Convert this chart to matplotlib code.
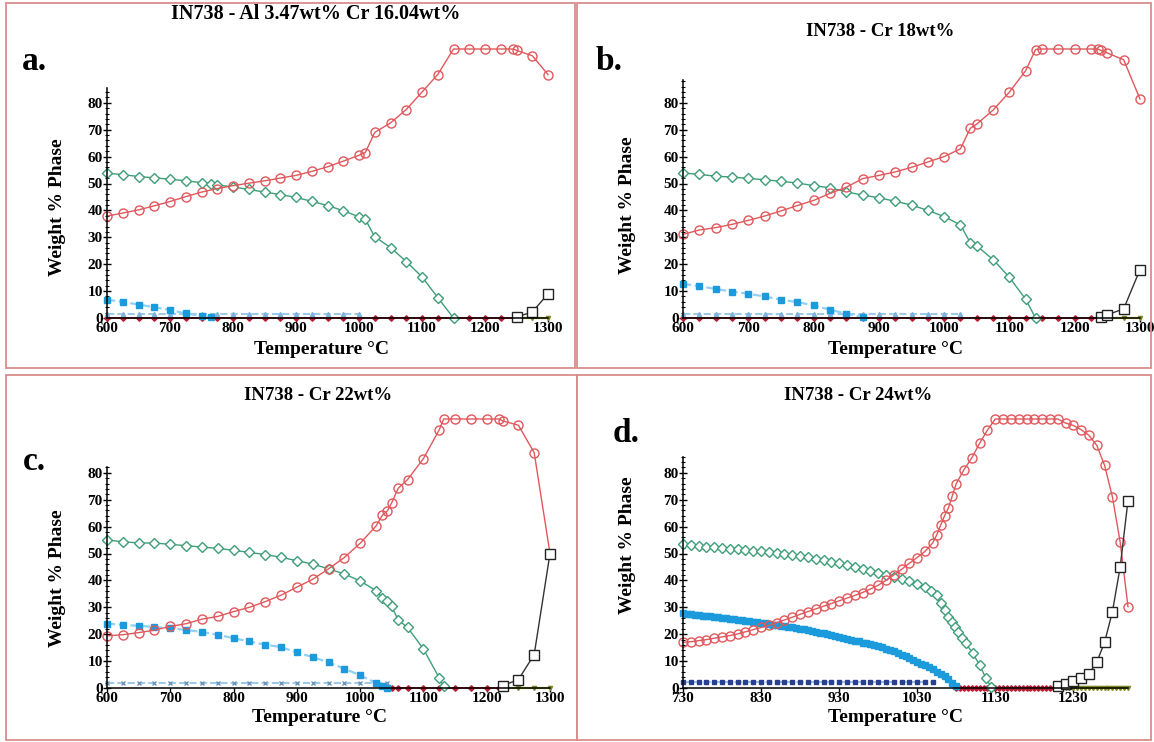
import matplotlib.pyplot as plt
from matplotlib.patches import Rectangle
from matplotlib.ticker import FixedLocator

plt.rcParams["font.family"] = ["Liberation Serif", "DejaVu Serif"]
plt.rcParams["font.weight"] = "bold"

W, H = 1154, 742
PPU = 2.69  # pixels per weight-% on every panel

# ---------------- panel a : IN738 - Al 3.47wt% Cr 16.04wt% ----------------
temp_fcc_a = [600, 625, 650, 675, 700, 725, 750, 775, 800, 825, 850, 875, 900, 925, 950, 975,
              1000, 1010, 1025, 1050, 1075, 1100, 1125, 1150, 1175, 1200, 1225, 1245, 1250, 1275, 1300]
fcc_a = [37.9, 39.0, 40.2, 41.7, 43.3, 45.1, 46.8, 48.1, 49.2, 50.1, 51.0, 52.0, 53.0, 54.5, 56.2, 58.3,
         60.5, 61.5, 69.0, 72.5, 77.5, 84.0, 90.5, 100, 100, 100, 100, 100, 99.5, 97.5, 90.5]
temp_gp_a = [600, 625, 650, 675, 700, 725, 750, 765, 775, 800, 825, 850, 875, 900, 925, 950, 975,
             1000, 1010, 1025, 1050, 1075, 1100, 1125, 1150]
gp_a = [53.8, 53.3, 52.6, 52.1, 51.6, 51.0, 50.3, 50.0, 49.5, 48.7, 47.8, 46.8, 45.9, 44.8, 43.4, 41.8, 39.9,
        37.6, 36.7, 30.2, 26.2, 21.0, 15.3, 7.6, 0.0]
temp_sig_a = [600, 625, 650, 675, 700, 725, 750, 765]
sig_a = [6.8, 6.0, 5.0, 4.0, 3.0, 1.7, 0.8, 0.2]
temp_carb_a = [600, 625, 650, 675, 700, 725, 750, 775, 800, 825, 850, 875, 900, 925, 950, 975, 1000]
carb_a = [1.5, 1.5, 1.5, 1.5, 1.5, 1.5, 1.5, 1.5, 1.5, 1.5, 1.5, 1.5, 1.5, 1.5, 1.5, 1.5, 1.5]
temp_zero_a = [600, 625, 650, 675, 700, 725, 750, 775, 800, 825, 850, 875, 900, 925, 950, 975, 1000,
               1025, 1050, 1075, 1100, 1125, 1150, 1175, 1200, 1225, 1250]
zero_a = [0, 0, 0, 0, 0, 0, 0, 0, 0, 0, 0, 0, 0, 0, 0, 0, 0, 0, 0, 0, 0, 0, 0, 0, 0, 0, 0]
temp_liq_a = [1250, 1275, 1300]
liq_a = [0.4, 2.2, 9.0]
temp_ol_a = [1250, 1275, 1300]
ol_a = [0, 0, 0]

# ---------------- panel b : IN738 - Cr 18wt% ----------------
temp_fcc_b = [600, 625, 650, 675, 700, 725, 750, 775, 800, 825, 850, 875, 900, 925, 950, 975, 1000, 1025,
              1040, 1050, 1075, 1100, 1125, 1140, 1150, 1175, 1200, 1225, 1235, 1240, 1250, 1275, 1300]
fcc_b = [31.1, 32.7, 33.6, 34.8, 36.3, 37.9, 39.8, 41.8, 43.7, 46.3, 48.6, 51.8, 53.0, 54.3, 56.0, 58.0, 60.0, 62.9,
         70.5, 72.1, 77.3, 84.0, 92.0, 99.8, 100, 100, 100, 100, 100, 99.5, 98.5, 96.0, 81.4]
temp_gp_b = [600, 625, 650, 675, 700, 725, 750, 775, 800, 825, 850, 875, 900, 925, 950, 975, 1000, 1025,
             1040, 1050, 1075, 1100, 1125, 1140]
gp_b = [53.9, 53.4, 52.7, 52.4, 51.9, 51.4, 50.8, 50.2, 49.2, 48.4, 46.9, 45.7, 44.7, 43.4, 42.0, 40.0, 37.7, 34.6,
        28.0, 26.8, 21.7, 15.1, 6.9, 0.0]
temp_sig_b = [600, 625, 650, 675, 700, 725, 750, 775, 800, 825, 850, 875]
sig_b = [12.7, 11.8, 10.8, 9.8, 9.0, 8.0, 6.8, 5.9, 4.7, 3.1, 1.6, 0.4]
temp_carb_b = [600, 625, 650, 675, 700, 725, 750, 775, 800, 825, 850, 875, 900, 925, 950, 975, 1000, 1025]
carb_b = [1.5, 1.5, 1.5, 1.5, 1.5, 1.5, 1.5, 1.5, 1.5, 1.5, 1.5, 1.5, 1.5, 1.5, 1.5, 1.5, 1.5, 1.5]
temp_zero_b = [600, 625, 650, 675, 700, 725, 750, 775, 800, 825, 850, 875, 900, 925, 950, 975, 1000,
               1025, 1050, 1075, 1100, 1125, 1150, 1175, 1200, 1225, 1240]
zero_b = [0, 0, 0, 0, 0, 0, 0, 0, 0, 0, 0, 0, 0, 0, 0, 0, 0, 0, 0, 0, 0, 0, 0, 0, 0, 0, 0]
temp_liq_b = [1240, 1250, 1275, 1300]
liq_b = [0.4, 1.2, 3.4, 18.0]
temp_ol_b = [1240, 1250, 1275, 1300]
ol_b = [0, 0, 0, 0]

# ---------------- panel c : IN738 - Cr 22wt% ----------------
temp_fcc_c = [600, 625, 650, 675, 700, 725, 750, 775, 800, 825, 850, 875, 900, 925, 950, 975, 1000, 1025,
              1035, 1043, 1050, 1060, 1075, 1100, 1125, 1132, 1150, 1175, 1200, 1220, 1225, 1250, 1275, 1300]
fcc_c = [19.4, 19.8, 20.6, 21.5, 22.9, 23.9, 25.6, 26.6, 28.4, 30.0, 32.1, 34.5, 37.5, 40.4, 44.3, 48.5, 53.8, 60.2,
         64.2, 65.8, 68.9, 74.2, 77.5, 85.3, 96.0, 100, 100, 100, 100, 100, 99.3, 97.7, 87.5, 50.0]
temp_gp_c = [600, 625, 650, 675, 700, 725, 750, 775, 800, 825, 850, 875, 900, 925, 950, 975, 1000, 1025,
             1035, 1043, 1050, 1060, 1075, 1100, 1125, 1132]
gp_c = [55.0, 54.4, 53.9, 53.9, 53.4, 52.9, 52.4, 51.9, 51.2, 50.4, 49.6, 48.6, 47.3, 46.1, 44.3, 42.4, 39.8, 36.2,
        33.6, 32.4, 30.3, 25.3, 22.5, 14.5, 3.7, 0.6]
temp_sig_c = [600, 625, 650, 675, 700, 725, 750, 775, 800, 825, 850, 875, 900, 925, 950, 975, 1000, 1025,
              1035, 1043]
sig_c = [23.9, 23.5, 23.1, 22.7, 22.2, 21.6, 20.8, 19.8, 18.5, 17.3, 16.1, 15.2, 13.2, 11.5, 9.5, 7.2, 4.7, 1.9,
         0.6, 0.0]
temp_carb_c = [600, 625, 650, 675, 700, 725, 750, 775, 800, 825, 850, 875, 900, 925, 950, 975, 1000, 1025, 1043]
carb_c = [1.8, 1.8, 1.8, 1.8, 1.8, 1.8, 1.8, 1.8, 1.8, 1.8, 1.8, 1.8, 1.8, 1.8, 1.8, 1.8, 1.8, 1.8, 1.8]
temp_zero_c = [1043, 1050, 1060, 1075, 1100, 1125, 1150, 1175, 1200, 1220, 1225]
zero_c = [0, 0, 0, 0, 0, 0, 0, 0, 0, 0, 0]
temp_liq_c = [1225, 1250, 1275, 1300]
liq_c = [0.9, 3.1, 12.4, 50.0]
temp_ol_c = [1225, 1250, 1275, 1300]
ol_c = [0, 0, 0, 0]

# ---------------- panel d : IN738 - Cr 24wt% ----------------
temp_fcc_d = [730, 740, 750, 760, 770, 780, 790, 800, 810, 820, 830, 840, 850, 860, 870, 880, 890, 900,
              910, 920, 930, 940, 950, 960, 970, 980, 990, 1000, 1010, 1020, 1030, 1040, 1050,
              1055, 1060, 1065, 1070, 1075, 1080, 1090, 1100, 1110, 1120,
              1130, 1140, 1150, 1160, 1170, 1180, 1190, 1200, 1210,
              1220, 1230, 1240, 1250, 1260, 1270, 1280, 1290, 1300]
fcc_d = [17.0, 17.2, 17.6, 18.0, 18.5, 19.0, 19.5, 20.1, 20.9, 21.7, 22.5, 23.3, 24.3, 25.3, 26.3, 27.4, 28.4, 29.4,
         30.4, 31.4, 32.4, 33.4, 34.4, 35.5, 36.8, 38.2, 40.0, 42.0, 44.1, 46.4, 48.5, 50.8, 54.0,
         56.9, 60.5, 64.0, 67.0, 71.5, 76.0, 81.2, 85.6, 91.0, 95.9,
         100, 100, 100, 100, 100, 100, 100, 100, 100,
         98.5, 97.6, 96.0, 93.9, 90.2, 82.8, 71.1, 54.2, 30.2]
temp_gp_d = [730, 740, 750, 760, 770, 780, 790, 800, 810, 820, 830, 840, 850, 860, 870, 880, 890, 900,
             910, 920, 930, 940, 950, 960, 970, 980, 990, 1000, 1010, 1020, 1030, 1040,
             1048, 1055, 1060, 1065, 1070, 1074, 1078, 1082, 1087, 1092, 1101, 1110, 1118, 1125]
gp_d = [53.4, 53.2, 52.9, 52.6, 52.3, 52.0, 51.8, 51.6, 51.4, 51.1, 50.9, 50.6, 50.3, 49.8, 49.4, 49.0, 48.6, 48.1,
        47.6, 47.0, 46.4, 45.7, 45.0, 44.3, 43.5, 42.8, 42.0, 41.3, 40.5, 39.6, 38.6, 37.4,
        36.0, 34.4, 31.5, 29.0, 26.3, 24.5, 22.6, 20.7, 18.5, 16.8, 12.9, 8.6, 3.6, 0.3]
temp_sig_d = [730, 735, 740, 745, 750, 755, 760, 765, 770, 775, 780, 785, 790, 795, 800, 805, 810, 815,
              820, 825, 830, 835, 840, 845, 850, 855, 860, 865, 870, 875, 880, 885, 890, 895, 900,
              905, 910, 915, 920, 925, 930, 935, 940, 945, 950, 955, 960, 965, 970, 975, 980, 985,
              990, 995, 1000, 1005, 1010, 1015, 1020, 1025, 1030, 1035, 1040, 1045, 1050, 1055,
              1060, 1065, 1070, 1075, 1080]
sig_d = [27.7, 27.6, 27.5, 27.3, 27.1, 26.9, 26.8, 26.6, 26.4, 26.3, 26.1, 25.9, 25.7, 25.6, 25.4, 25.2, 25.0, 24.8,
         24.6, 24.4, 24.2, 24.0, 23.8, 23.6, 23.4, 23.2, 23.0, 22.8, 22.6, 22.3, 22.1, 21.8, 21.5, 21.2, 20.9,
         20.6, 20.3, 19.9, 19.6, 19.2, 18.9, 18.6, 18.2, 17.9, 17.6, 17.3, 16.9, 16.6, 16.2, 15.9, 15.5, 15.1,
         14.6, 14.1, 13.6, 13.0, 12.4, 11.8, 11.2, 10.5, 9.8, 9.1, 8.4, 7.7, 6.9, 6.1,
         5.2, 4.3, 3.2, 2.0, 0.8]
temp_carb_d = [730, 740, 750, 760, 770, 780, 790, 800, 810, 820, 830, 840, 850, 860, 870, 880, 890, 900,
               910, 920, 930, 940, 950, 960, 970, 980, 990, 1000, 1010, 1020, 1030, 1040, 1050]
carb_d = [2.2, 2.2, 2.2, 2.2, 2.2, 2.2, 2.2, 2.2, 2.2, 2.2, 2.2, 2.2, 2.2, 2.2, 2.2, 2.2, 2.2, 2.2,
          2.2, 2.2, 2.2, 2.2, 2.2, 2.2, 2.2, 2.2, 2.2, 2.2, 2.2, 2.2, 2.2, 2.2, 2.2]
temp_zero_d = [1080, 1085, 1090, 1095, 1100, 1105, 1110, 1115, 1120, 1125, 1130, 1135, 1140, 1145,
               1150, 1155, 1160, 1165, 1170, 1175, 1180, 1185, 1190, 1195, 1200, 1205, 1210]
zero_d = [0, 0, 0, 0, 0, 0, 0, 0, 0, 0, 0, 0, 0, 0, 0, 0, 0, 0, 0, 0, 0, 0, 0, 0, 0, 0, 0]
temp_liq_d = [1210, 1220, 1230, 1240, 1250, 1260, 1270, 1280, 1290, 1300]
liq_d = [0.8, 1.6, 2.6, 3.6, 5.3, 9.6, 17.0, 28.3, 45.0, 69.7]
temp_ol_d = [1210, 1215, 1220, 1225, 1230, 1235, 1240, 1245, 1250, 1255, 1260, 1265, 1270, 1275,
             1280, 1285, 1290, 1295, 1300]
ol_d = [0, 0, 0, 0, 0, 0, 0, 0, 0, 0, 0, 0, 0, 0, 0, 0, 0, 0, 0]

RED = "#e0585c"
GREEN = "#3d9e79"
BLUE = "#1c9bdc"
BORDER = "#d98c8c"

fig = plt.figure(figsize=(W / 100, H / 100), dpi=100)
fig.patch.set_facecolor("white")


def fx(x):
    return x / W


def fy(y):
    return 1 - y / H


def make_axes(x0, x1, y0, xmin, xmax, xticks, spine_top):
    top = y0 - 100 * PPU
    ax = fig.add_axes([fx(x0), fy(y0), (x1 - x0) / W, (y0 - top) / H])
    ax.set_xlim(xmin, xmax)
    ax.set_ylim(0, 100)
    ax.patch.set_alpha(0)
    for s in ["top", "right"]:
        ax.spines[s].set_visible(False)
    ax.spines["left"].set_bounds(0, spine_top)
    ax.spines["left"].set_linewidth(1.1)
    ax.spines["bottom"].set_linewidth(1.1)
    ax.set_yticks(range(0, 81, 10))
    ax.yaxis.set_minor_locator(FixedLocator(list(range(0, int(spine_top) + 1, 2))))
    ax.set_xticks(xticks)
    ax.tick_params(axis="y", which="major", direction="inout", length=6, width=1, labelsize=11, pad=0)
    ax.tick_params(axis="y", which="minor", direction="inout", length=3, width=0.8)
    ax.tick_params(axis="x", which="major", direction="out", length=3, width=1, labelsize=11, pad=0)
    return ax


def draw(ax, zt, zv, olt, olv, ct, cv, cmark, cmcol, st, sv, sms, gt, gv, ft, fv, lt, lv, ms_o=6.5):
    kw = dict(clip_on=False)
    ax.plot(zt, zv, color="#c8283c", lw=1.3, marker="D", ms=2.8, mfc="#b81f33", mec="#b81f33", **kw)
    ax.plot(olt, olv, color="#a8b432", lw=1.6, marker="v", ms=3, mfc="#7e8a20", mec="#7e8a20", **kw)
    ax.plot(ct, cv, color="#9cc9ea", lw=1.4, ls="--", marker=cmark, ms=3, mfc=cmcol, mec=cmcol, **kw)
    ax.plot(st, sv, color="#8fd0f4", lw=1.6, ls="--", marker="s", ms=sms, mfc=BLUE, mec=BLUE, **kw)
    ax.plot(gt, gv, color=GREEN, lw=1.0, marker="D", ms=ms_o - 1, mfc="white", mec=GREEN, mew=1.0, **kw)
    ax.plot(ft, fv, color=RED, lw=1.0, marker="o", ms=ms_o, mfc="none", mec=RED, mew=1.0, **kw)
    ax.plot(lt, lv, color="#333333", lw=1.0, marker="s", ms=ms_o, mfc="white", mec="#222222", mew=1.0, **kw)


def label(x, y, s, size, rot=0):
    fig.text(fx(x), fy(y), s, ha="center", va="center", fontsize=size, fontweight="bold", rotation=rot)


# panel borders
for (x0, y0, x1, y1) in [(6, 3, 575, 368), (577, 3, 1151, 368), (6, 375, 577, 740), (577, 375, 1151, 740)]:
    fig.add_artist(Rectangle((fx(x0), fy(y1)), (x1 - x0) / W, (y1 - y0) / H, transform=fig.transFigure,
                             fill=False, ec=BORDER, lw=1.3))

ticks_std = [600, 700, 800, 900, 1000, 1100, 1200, 1300]

ax_a = make_axes(107, 548, 318, 600, 1300, ticks_std, 85.5)
draw(ax_a, temp_zero_a, zero_a, temp_ol_a, ol_a, temp_carb_a, carb_a, "^", "#7fb3de",
     temp_sig_a, sig_a, 4.5, temp_gp_a, gp_a, temp_fcc_a, fcc_a, temp_liq_a, liq_a)

ax_b = make_axes(683, 1140, 318, 600, 1300, ticks_std, 88.5)
draw(ax_b, temp_zero_b, zero_b, temp_ol_b, ol_b, temp_carb_b, carb_b, "^", "#7fb3de",
     temp_sig_b, sig_b, 4.5, temp_gp_b, gp_b, temp_fcc_b, fcc_b, temp_liq_b, liq_b)

ax_c = make_axes(107, 550, 688, 600, 1300, ticks_std, 82)
draw(ax_c, temp_zero_c, zero_c, temp_ol_c, ol_c, temp_carb_c, carb_c, "x", "#6f95b8",
     temp_sig_c, sig_c, 4.5, temp_gp_c, gp_c, temp_fcc_c, fcc_c, temp_liq_c, liq_c)

ax_d = make_axes(683, 1128, 688, 730, 1300, [730, 830, 930, 1030, 1130, 1230], 86)
draw(ax_d, temp_zero_d, zero_d, temp_ol_d, ol_d, temp_carb_d, carb_d, "s", "#2a3f8f",
     temp_sig_d, sig_d, 4.0, temp_gp_d, gp_d, temp_fcc_d, fcc_d, temp_liq_d, liq_d)

# titles, panel letters and axis labels
label(316, 14, "IN738 - Al 3.47wt% Cr 16.04wt%", 14.5)
label(880, 31, "IN738 - Cr 18wt%", 13.5)
label(318, 396, "IN738 - Cr 22wt%", 13.5)
label(858, 396, "IN738 - Cr 24wt%", 13.5)

label(34, 62, "a.", 24)
label(609, 62, "b.", 24)
label(34, 462, "c.", 24)
label(626, 433, "d.", 24)

for x, y in [(322, 350), (895, 350), (320, 718), (895, 718)]:
    label(x, y, "Temperature °C", 14)
for x, y in [(58, 207), (627, 205), (58, 578), (628, 545)]:
    label(x, y, "Weight % Phase", 14, rot=90)

fig.savefig("out.png", dpi=100, facecolor="white")
